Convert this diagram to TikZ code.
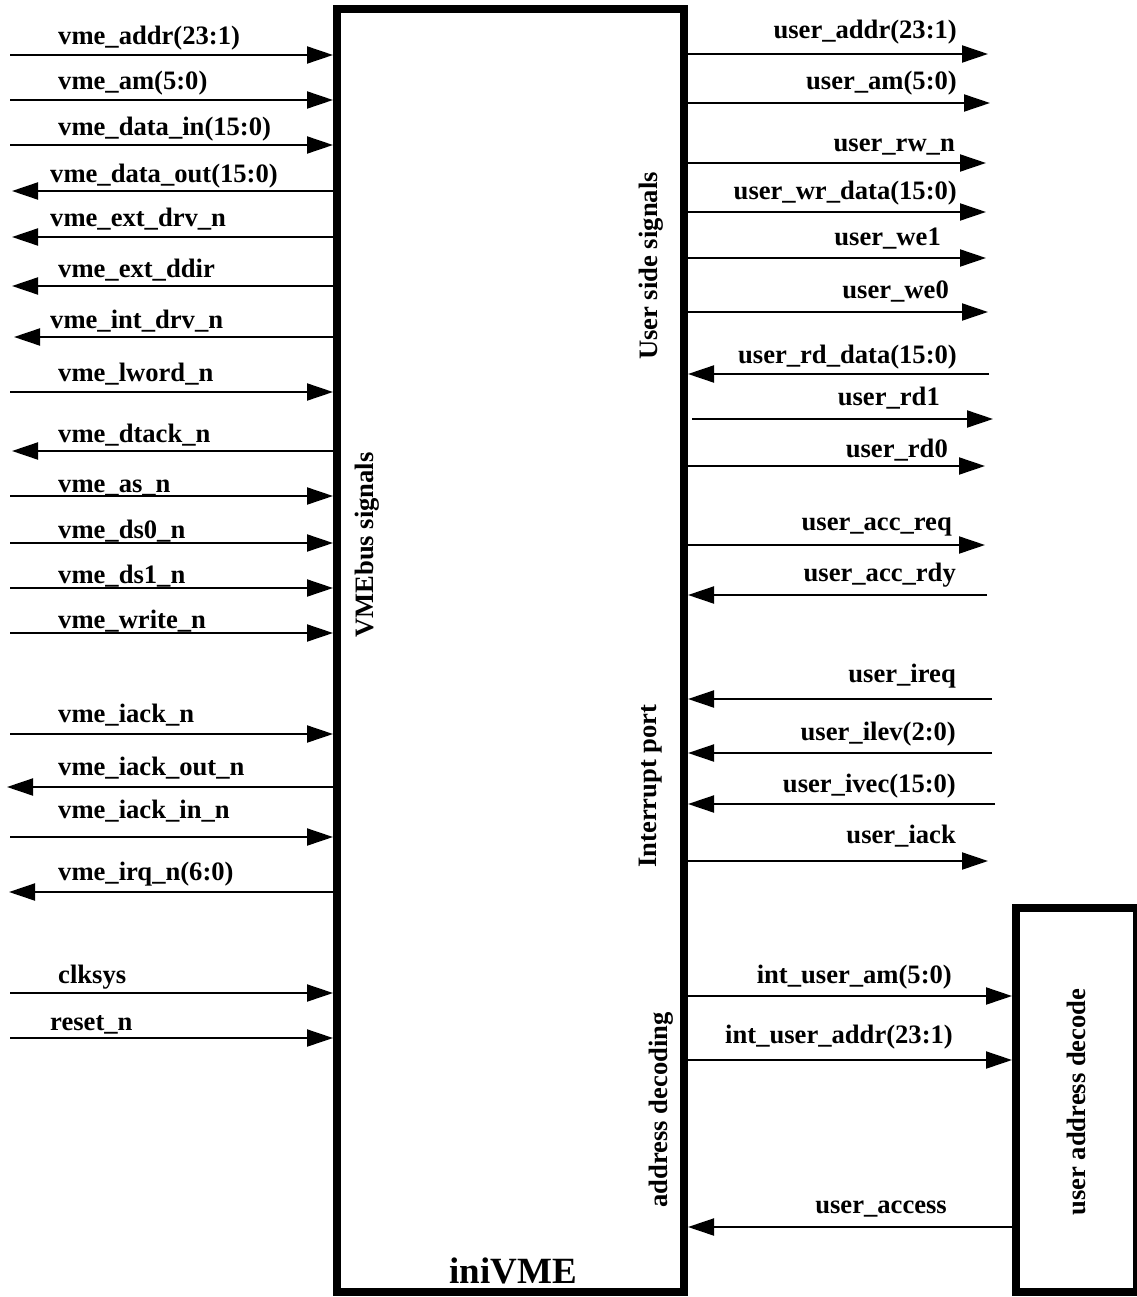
\documentclass[tikz,border=0pt]{standalone}
\usepackage{fontspec}
\setmainfont{Liberation Serif}
\usetikzlibrary{arrows.meta}
\begin{document}
\begin{tikzpicture}[x=1pt,y=-1pt,
  sig/.style={line width=2pt,-{Triangle[length=26pt,width=17pt]}},
  lbl/.style={font=\fontsize{26.6}{30}\selectfont\bfseries, inner sep=0pt},
  lblL/.style={lbl,anchor=base west},
  lblR/.style={lbl,anchor=base east},
  vlbl/.style={lbl,rotate=90,anchor=center},
  block/.style={draw,line width=8pt,inner sep=0pt}
]
\useasboundingbox (0,0) rectangle (1136,1297);
% blocks
\node[block,minimum width=347pt,minimum height=1283pt] (ini) at (510.5,650.5) {};
\node[block,minimum width=121pt,minimum height=384pt] (dec) at (1076.5,1100) {};
% block labels
\node[lbl,font=\fontsize{37}{40}\selectfont\bfseries,anchor=base] (title) at (513,1283) {iniVME};
\node[vlbl] (vmesig) at (367,545) {VMEbus signals};
\node[vlbl] (usersig) at (651,266) {User side signals};
\node[vlbl] (intport) at (651,786) {Interrupt port};
\node[vlbl] (adec) at (661,1110) {address decoding};
\node[vlbl] (uad) at (1076,1102) {user address decode};
% left inputs
\foreach \y/\lx/\by/\txt [count=\i] in {
  55/58/45/vme\_addr(23:1),
  100/58/90/vme\_am(5:0),
  145/58/136/vme\_data\_in(15:0),
  392/58/381/vme\_lword\_n,
  496/58/492/vme\_as\_n,
  543/58/538/vme\_ds0\_n,
  588/58/583/vme\_ds1\_n,
  633/58/628/vme\_write\_n,
  734/58/722/vme\_iack\_n,
  837/58/818/vme\_iack\_in\_n,
  993/58/983/clksys,
  1038/50/1030/reset\_n}{
  \coordinate (li\i) at (10,\y);
  \draw[sig] (li\i) -- (li\i -| ini.west);
  \node[lblL] (lil\i) at (\lx,\by) {\txt};
}
% left outputs
\foreach \y/\tx/\lx/\by/\txt [count=\i] in {
  191/12/50/183/vme\_data\_out(15:0),
  237/12/50/227/vme\_ext\_drv\_n,
  286/12/58/277/vme\_ext\_ddir,
  337/14/50/328/vme\_int\_drv\_n,
  451/12/58/442/vme\_dtack\_n,
  787/7/58/775/vme\_iack\_out\_n,
  892/9/58/880/vme\_irq\_n(6:0)}{
  \coordinate (lo\i) at (\tx,\y);
  \draw[sig] (lo\i -| ini.west) -- (lo\i);
  \node[lblL] (lol\i) at (\lx,\by) {\txt};
}
% right outputs
\foreach \y/\tx/\lx/\by/\txt [count=\i] in {
  54/988/957/39/user\_addr(23:1),
  103/990/957/90/user\_am(5:0),
  163/986/955/152/user\_rw\_n,
  212/986/957/200/user\_wr\_data(15:0),
  258/986/941/245/user\_we1,
  312/988/949/298/user\_we0,
  466/985/948/457/user\_rd0,
  545/985/952/530/user\_acc\_req,
  861/988/956/843/user\_iack}{
  \coordinate (ro\i) at (\tx,\y);
  \draw[sig] (ro\i -| ini.east) -- (ro\i);
  \node[lblR] (rol\i) at (\lx,\by) {\txt};
}
% user_rd1 starts a little right of the block edge
\coordinate (rd1s) at (692,419);
\coordinate (rd1e) at (993,419);
\draw[sig] (rd1s) -- (rd1e);
\node[lblR] (rd1l) at (940,405) {user\_rd1};
% right inputs
\foreach \y/\sx/\lx/\by/\txt [count=\i] in {
  374/989/957/363/user\_rd\_data(15:0),
  595/987/956/581/user\_acc\_rdy,
  699/992/956/682/user\_ireq,
  753/992/956/740/user\_ilev(2:0),
  804/995/956/792/user\_ivec(15:0)}{
  \coordinate (ri\i) at (\sx,\y);
  \draw[sig] (ri\i) -- (ri\i -| ini.east);
  \node[lblR] (ril\i) at (\lx,\by) {\txt};
}
% to / from decode block
\coordinate (d1) at (800,996);
\coordinate (d2) at (800,1060);
\coordinate (d3) at (800,1227);
\draw[sig] (d1 -| ini.east) -- (d1 -| dec.west);
\draw[sig] (d2 -| ini.east) -- (d2 -| dec.west);
\draw[sig] (d3 -| dec.west) -- (d3 -| ini.east);
\node[lblR] (dl1) at (952,983) {int\_user\_am(5:0)};
\node[lblR] (dl2) at (953,1043) {int\_user\_addr(23:1)};
\node[lblR] (dl3) at (947,1213) {user\_access};
\end{tikzpicture}
\end{document}
